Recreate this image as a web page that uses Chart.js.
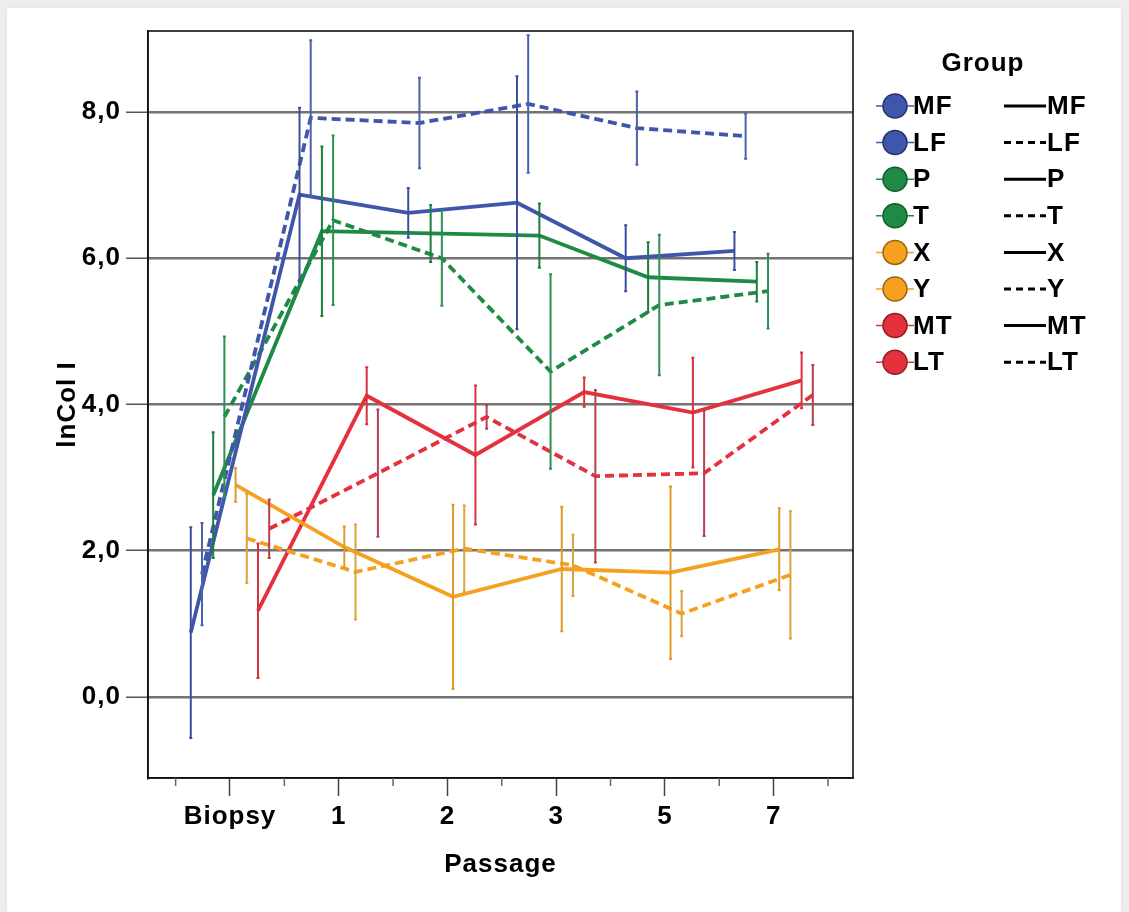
<!DOCTYPE html>
<html>
<head>
<meta charset="utf-8">
<script src="https://cdn.jsdelivr.net/npm/chart.js@4.4.1/dist/chart.umd.min.js"></script>
<style>
  html, body { margin: 0; padding: 0; width: 1129px; height: 912px; overflow: hidden; background: #eeeeee; }
  #card { position: absolute; left: 7px; top: 8px; width: 1114px; height: 904px; background: #ffffff; box-shadow: 0 0 6px rgba(0,0,0,0.05); }
  #chart { position: absolute; left: 0; top: 0; }
</style>
</head>
<body>
<div id="card"></div>
<canvas id="chart" width="1129" height="912"></canvas>
<script>
// Categories on the x axis and y tick values
const passages = ['Biopsy', '1', '2', '3', '5', '7'];
const yTickValues = [0, 2, 4, 6, 8];
const groupNames = ['MF', 'LF', 'P', 'T', 'X', 'Y', 'MT', 'LT'];

// Group means (lnCol I) per passage
const meanMF = [0.88, 6.87, 6.62, 6.76, 6.00, 6.10];
const meanLF = [1.68, 7.92, 7.85, 8.11, 7.78, 7.67];
const meanP  = [2.76, 6.37, 6.34, 6.31, 5.74, 5.68];
const meanT  = [3.83, 6.52, 6.00, 4.45, 5.36, 5.55];
const meanX  = [2.90, 2.05, 1.37, 1.75, 1.70, 2.02];
const meanY  = [2.17, 1.71, 2.03, 1.80, 1.14, 1.67];
const meanMT = [1.18, 4.12, 3.31, 4.17, 3.89, 4.33];
const meanLT = [2.30, 3.06, 3.83, 3.02, 3.06, 4.13];

// Error bar half-widths per passage
const errMF = [1.44, 1.19, 0.34, 1.73, 0.45, 0.26];
const errLF = [0.70, 1.06, 0.62, 0.94, 0.50, 0.31];
const errP  = [0.86, 1.16, 0.39, 0.44, 0.48, 0.27];
const errT  = [1.10, 1.16, 0.65, 1.33, 0.96, 0.51];
const errX  = [0.23, 0.28, 1.26, 0.85, 1.18, 0.56];
const errY  = [0.61, 0.65, 0.59, 0.42, 0.31, 0.87];
const errMT = [0.92, 0.39, 0.95, 0.20, 0.75, 0.38];
const errLT = [0.40, 0.87, 0.16, 1.18, 0.86, 0.41];

const means = [meanMF, meanLF, meanP, meanT, meanX, meanY, meanMT, meanLT];
const errs  = [errMF, errLF, errP, errT, errX, errY, errMT, errLT];

// Styling: colour pairs, solid / dashed alternating
const lineColors = ['#3f56aa', '#3f56aa', '#1f8a45', '#1f8a45', '#f5a11f', '#f5a11f', '#e3323e', '#e3323e'];
const barColors  = ['#3b4f9c', '#4a62b0', '#1c7d3e', '#2a9150', '#e09a2a', '#dba43a', '#d8323f', '#b8404e'];
const edgeColors = ['#25336b', '#25336b', '#135a2c', '#135a2c', '#9a6310', '#9a6310', '#8d1d25', '#8d1d25'];
const DASH = [9, 5];
const FONT = '"Liberation Sans", Arial, sans-serif';

// Side-by-side dodge inside each category
const dodge = k => (k - 3.5) * 0.103;

const datasets = groupNames.map((name, k) => ({
  label: name,
  data: means[k].map((v, i) => ({ x: i + dodge(k), y: v })),
  borderColor: lineColors[k],
  backgroundColor: lineColors[k],
  borderWidth: 3.8,
  borderDash: k % 2 === 1 ? DASH : [],
  pointRadius: 0,
  tension: 0,
  fill: false
}));

// Slightly wider lettering for every label drawn on the canvas
const wideText = {
  id: 'wideText',
  beforeDraw(chart) { chart.ctx.letterSpacing = '1px'; }
};

const errorBars = {
  id: 'errorBars',
  afterDatasetsDraw(chart) {
    const { ctx, scales: { x, y } } = chart;
    ctx.save();
    ctx.lineWidth = 2;
    groupNames.forEach((name, k) => {
      ctx.strokeStyle = barColors[k];
      means[k].forEach((m, i) => {
        const px = x.getPixelForValue(i + dodge(k));
        const top = y.getPixelForValue(m + errs[k][i]);
        const bot = y.getPixelForValue(m - errs[k][i]);
        ctx.beginPath();
        ctx.moveTo(px, top);
        ctx.lineTo(px, bot);
        ctx.stroke();
        ctx.beginPath();
        ctx.moveTo(px - 1.5, top); ctx.lineTo(px + 1.5, top);
        ctx.moveTo(px - 1.5, bot); ctx.lineTo(px + 1.5, bot);
        ctx.stroke();
      });
    });
    ctx.restore();
  }
};

const frameAndLegend = {
  id: 'frameAndLegend',
  afterDraw(chart) {
    const { ctx, chartArea: a, scales: { x } } = chart;
    ctx.save();
    // plot frame
    ctx.strokeStyle = '#111';
    ctx.lineWidth = 1.6;
    ctx.strokeRect(a.left, a.top, a.right - a.left, a.bottom - a.top);
    // minor ticks between categories
    ctx.strokeStyle = '#666';
    ctx.lineWidth = 1.5;
    for (let i = -0.5; i <= passages.length - 0.5; i += 1) {
      const px = x.getPixelForValue(i);
      ctx.beginPath();
      ctx.moveTo(px, a.bottom);
      ctx.lineTo(px, a.bottom + 8);
      ctx.stroke();
    }
    // legend
    ctx.fillStyle = '#000';
    ctx.textBaseline = 'middle';
    ctx.textAlign = 'center';
    ctx.font = 'bold 26px ' + FONT;
    ctx.fillText('Group', 983, 64);
    ctx.textAlign = 'left';
    groupNames.forEach((name, k) => {
      const ry = 106 + k * 36.6;
      // marker key
      ctx.strokeStyle = lineColors[k];
      ctx.lineWidth = 1.5;
      ctx.beginPath();
      ctx.moveTo(876, ry); ctx.lineTo(914, ry);
      ctx.stroke();
      ctx.beginPath();
      ctx.arc(895, ry, 12, 0, Math.PI * 2);
      ctx.fillStyle = lineColors[k];
      ctx.fill();
      ctx.strokeStyle = edgeColors[k];
      ctx.lineWidth = 1.5;
      ctx.stroke();
      ctx.fillStyle = '#000';
      ctx.font = 'bold 26px ' + FONT;
      ctx.fillText(name, 913, ry + 1);
      // line-style key
      ctx.strokeStyle = '#000';
      ctx.lineWidth = 3;
      ctx.setLineDash(k % 2 === 1 ? [7, 5] : []);
      ctx.beginPath();
      ctx.moveTo(1004, ry); ctx.lineTo(1046, ry);
      ctx.stroke();
      ctx.setLineDash([]);
      ctx.fillText(name, 1047, ry + 1);
    });
    ctx.restore();
  }
};

new Chart(document.getElementById('chart'), {
  type: 'line',
  data: { datasets },
  plugins: [wideText, errorBars, frameAndLegend],
  options: {
    responsive: false,
    animation: false,
    layout: { padding: { left: 0, top: 31, right: 276, bottom: 0 } },
    plugins: { legend: { display: false }, tooltip: { enabled: false } },
    scales: {
      x: {
        type: 'linear',
        min: -0.754,
        max: 5.73,
        afterBuildTicks: s => { s.ticks = passages.map((p, i) => ({ value: i })); },
        afterFit: s => { s.height = 134; },
        ticks: {
          callback: v => passages[v],
          autoSkip: false,
          maxRotation: 0,
          padding: 5,
          color: '#000',
          font: { family: FONT, size: 26, weight: 'bold' }
        },
        grid: { drawOnChartArea: false, drawTicks: true, tickLength: 18, tickColor: '#444', tickWidth: 1.5 },
        border: { color: '#111', width: 1.6 },
        title: {
          display: true,
          text: 'Passage',
          color: '#000',
          font: { family: FONT, size: 26, weight: 'bold' },
          padding: { top: 0, bottom: 32 }
        }
      },
      y: {
        type: 'linear',
        min: -1.108,
        max: 9.108,
        afterBuildTicks: s => { s.ticks = yTickValues.map(v => ({ value: v })); },
        afterFit: s => { s.width = 148; },
        ticks: {
          callback: v => v.toFixed(1).replace('.', ','),
          padding: 5,
          color: '#000',
          font: { family: FONT, size: 26, weight: 'bold' }
        },
        grid: { color: '#737373', lineWidth: 2.5, tickLength: 22, tickColor: '#555', tickWidth: 1.5 },
        border: { color: '#111', width: 1.6 },
        title: {
          display: true,
          text: 'lnCol I',
          color: '#000',
          font: { family: FONT, size: 26, weight: 'bold' },
          padding: { top: 52, bottom: 0 }
        }
      }
    }
  }
});
</script>
</body>
</html>
